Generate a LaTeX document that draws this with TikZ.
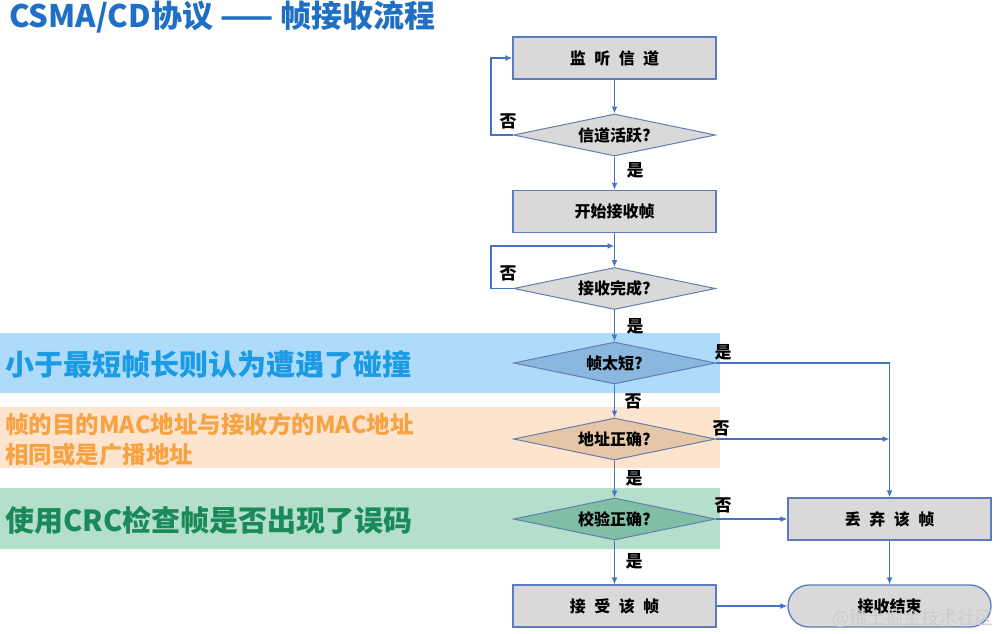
\documentclass[tikz,border=0pt]{standalone}
\usepackage{fontspec}
\setmainfont{Noto Sans CJK SC}
\usetikzlibrary{shapes.geometric,arrows.meta}
\definecolor{lineblue}{HTML}{4472C4}
\definecolor{boxfill}{HTML}{D9D9D9}
\definecolor{boxedge}{HTML}{5A7DBA}
\definecolor{bandblue}{HTML}{AEDBF9}
\definecolor{diablue}{HTML}{8AB7DF}
\definecolor{bandorange}{HTML}{FCE4CF}
\definecolor{diaorange}{HTML}{E6C6A6}
\definecolor{bandgreen}{HTML}{B3DFCC}
\definecolor{diagreen}{HTML}{7FBFA6}
\definecolor{titleblue}{HTML}{1F6FC4}
\definecolor{brightblue}{HTML}{1B9BE6}
\definecolor{orangetext}{HTML}{F7A343}
\definecolor{greentext}{HTML}{1A8A58}
\newcommand{\gp}{\hspace{8.5pt}}
\tikzset{
  box/.style={draw=boxedge, line width=1.3pt, fill=boxfill, minimum width=203pt, minimum height=42pt, inner sep=0pt, font=\fontsize{16}{19}\selectfont\bfseries},
  dia/.style={shape=diamond, draw=boxedge!75!gray, line width=1pt, fill=boxfill, minimum width=202pt, minimum height=42pt, aspect=5, inner sep=0pt, font=\fontsize{16}{19}\selectfont\bfseries},
  endbox/.style={box, rounded corners=21pt},
  arr/.style={draw=lineblue, line width=1.8pt, -{Latex[length=7pt,width=6pt]}},
  lbl/.style={font=\fontsize{17}{20}\selectfont\bfseries, inner sep=0pt},
  band/.style={inner sep=0pt, anchor=west, font=\bfseries},
}
\begin{document}
\begin{tikzpicture}[x=1pt,y=-1pt]
\useasboundingbox (0,0) rectangle (1000,633);
\fill[white] (0,0) rectangle (1000,633);
% bands
\fill[bandblue] (0,333) rectangle (720,393);
\fill[bandorange] (0,407) rectangle (720,468);
\fill[bandgreen] (0,488) rectangle (720,549);
% title and notes
\node[band, text=titleblue, font=\fontsize{31}{34}\selectfont\bfseries] (title) at (9,17) {CSMA/CD协议 —— 帧接收流程};
\node[band, text=brightblue, font=\fontsize{29}{32}\selectfont\bfseries] (note1) at (5,364) {小于最短帧长则认为遭遇了碰撞};
\node[band, text=orangetext, font=\fontsize{23.5}{30}\selectfont\bfseries, align=left] (note2) at (5,440) {帧的目的MAC地址与接收方的MAC地址\\相同或是广播地址};
\node[band, text=greentext, font=\fontsize{29}{32}\selectfont\bfseries] (note3) at (5,520) {使用CRC检查帧是否出现了误码};
% nodes
\node[box] (listen) at (614.5,58) {监\gp 听\gp 信\gp 道};
\node[dia] (active) at (614.5,135) {信道活跃?};
\node[box] (start) at (614.5,211.5) {开始接收帧};
\node[dia] (done) at (614.5,288.5) {接收完成?};
\node[dia, fill=diablue] (short) at (614.5,363) {帧太短?};
\node[dia, fill=diaorange] (addr) at (614.5,439) {地址正确?};
\node[dia, fill=diagreen] (crc) at (614.5,519) {校验正确?};
\node[box] (accept) at (614.5,606) {接\gp 受\gp 该\gp 帧};
\node[box] (discard) at (889.5,519) {丢\gp 弃\gp 该\gp 帧};
\node[endbox] (end) at (889.5,606) {接收结束};
\coordinate (j1) at (614.5,246);
% connectors
\draw[arr] (listen) -- (active);
\draw[arr] (active.west) -- ++(-22,0) |- (listen.west);
\draw[arr] (active) -- (start);
\draw[arr] (start) -- (done);
\draw[arr] (done.west) -- ++(-22,0) |- (j1);
\draw[arr] (done) -- (short);
\draw[arr] (short) -- (addr);
\draw[arr] (addr) -- (crc);
\draw[arr] (crc) -- (accept);
\draw[arr] (short.east) -| (discard.north);
\draw[arr] (addr.east) -- (addr.east -| discard.north);
\draw[arr] (crc) -- (discard);
\draw[arr] (accept) -- (end);
\draw[arr] (discard) -- (end);
% labels
\node[lbl] (l1) at (508,121) {否};
\node[lbl] (l2) at (635,170) {是};
\node[lbl] (l3) at (508,273) {否};
\node[lbl] (l4) at (635,326) {是};
\node[lbl] (l5) at (723,352) {是};
\node[lbl] (l6) at (633,401) {否};
\node[lbl] (l7) at (721,428) {否};
\node[lbl] (l8) at (634,478) {是};
\node[lbl] (l9) at (723,505) {否};
\node[lbl] (l10) at (634,561) {是};
% watermark
\node[anchor=east, inner sep=0pt, text=gray!40, font=\fontsize{18}{20}\selectfont] (wm) at (994,618) {@稀土掘金技术社区};
\end{tikzpicture}
\end{document}
